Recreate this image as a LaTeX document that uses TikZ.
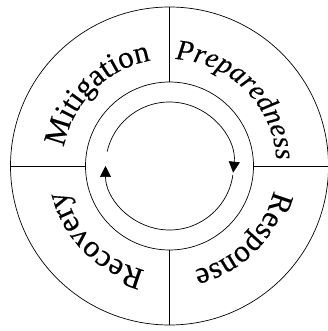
\documentclass[tikz,border=0pt]{standalone}
\usepackage{fontspec}
\setmainfont{Liberation Serif}
\newfontfamily\ringface[FakeBold=0.3]{Liberation Serif}
\usetikzlibrary{decorations.text,arrows.meta}
\newcommand{\ringfont}{\ringface\fontsize{31}{36}\selectfont}
\newcommand{\ringitfont}{\ringface\fontsize{28.5}{33}\selectfont\itshape}
\begin{document}
\begin{tikzpicture}[x=1pt,y=1pt,line width=0.7pt,
  ringtext/.style={decorate,decoration={text along path,text align=center,text={#1}}},
  cyclearrow/.style={-{Triangle[width=11pt,length=11pt]}}]
\useasboundingbox (-169.5,-165) rectangle (157.5,166);
\coordinate (O) at (0,0);
\draw (O) circle[radius=159];
\draw (O) circle[radius=84];
\foreach \a in {0,90,180,270} \draw (\a:84) -- (\a:159);
\draw[cyclearrow] (167:64) arc[start angle=167,end angle=-6,radius=64];
\draw[cyclearrow] (-8:64) arc[start angle=-8,end angle=-180,radius=64];
\begingroup\ringfont
\path[ringtext={Mitigation}] (180:107) arc[start angle=180,end angle=90,radius=107];
\path[ringtext={Response}] (0:107) arc[start angle=0,end angle=-90,radius=107];
\path[ringtext={Recovery}] (-90:107) arc[start angle=-90,end angle=-180,radius=107];
\endgroup
\begingroup\ringitfont
\path[ringtext={Preparedness}] (90:107) arc[start angle=90,end angle=0,radius=107];
\endgroup
\end{tikzpicture}
\end{document}
